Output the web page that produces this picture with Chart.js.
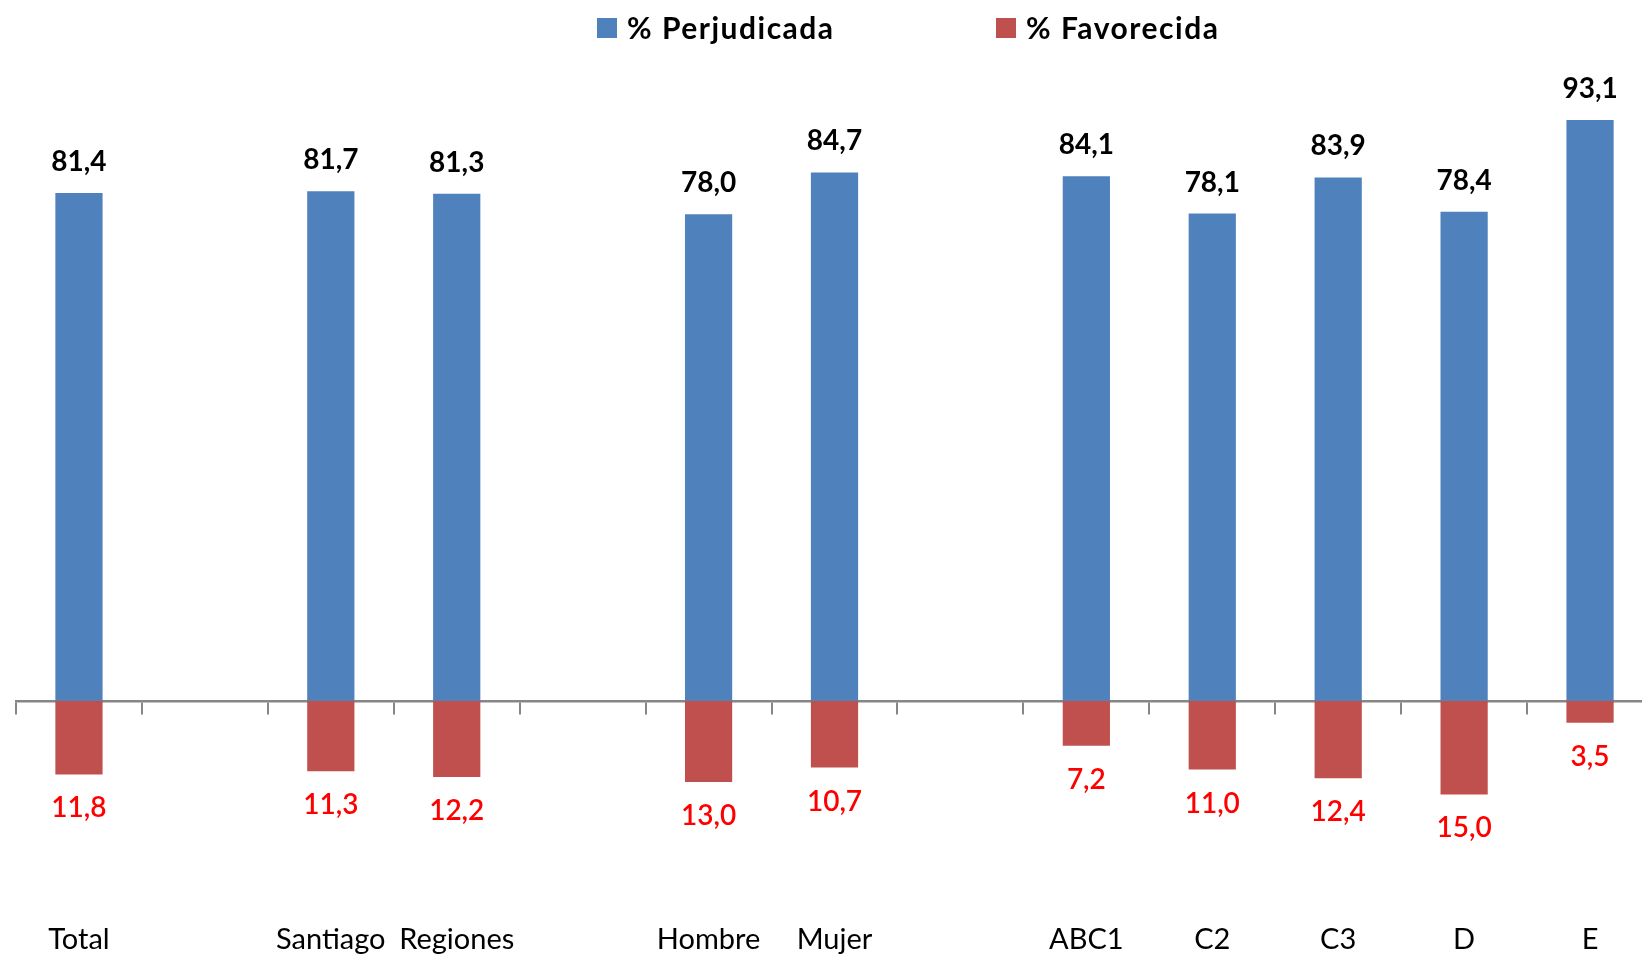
<!DOCTYPE html>
<html>
<head>
<meta charset="utf-8">
<title>% Perjudicada / % Favorecida</title>
<script src="https://cdn.jsdelivr.net/npm/chart.js@4.4.1/dist/chart.umd.min.js"></script>
<style>
    html, body { margin: 0; padding: 0; background: #fff; overflow: hidden; }
    #wrap { position: absolute; left: 0; top: 0; width: 1660px; height: 960px; }
</style>
</head>
<body>
<div id="wrap"><canvas id="chart" width="1660" height="960"></canvas></div>
<script>
// Data (empty categories are the gaps between groups)
const categories = ['Total', '', 'Santiago', 'Regiones', '', 'Hombre', 'Mujer', '', 'ABC1', 'C2', 'C3', 'D', 'E'];
const perjudicada = [81.4, null, 81.7, 81.3, null, 78.0, 84.7, null, 84.1, 78.1, 83.9, 78.4, 93.1];
const favorecida = [11.8, null, 11.3, 12.2, null, 13.0, 10.7, null, 7.2, 11.0, 12.4, 15.0, 3.5];
const seriesNames = ['% Perjudicada', '% Favorecida'];
const seriesColors = ['#4F81BD', '#C0504D'];

const FONT = "Lato, 'Open Sans', sans-serif";

function formatValue(v) {
    return v.toFixed(1).replace('.', ',');
}

// Value labels: black above the blue bars, red below the red bars
const valueLabels = {
    id: 'valueLabels',
    afterDatasetsDraw(chart) {
        const ctx = chart.ctx;
        ctx.save();
        ctx.textAlign = 'center';
        ctx.textBaseline = 'middle';
        chart.data.datasets.forEach((ds, i) => {
            const meta = chart.getDatasetMeta(i);
            meta.data.forEach((bar, j) => {
                const v = ds.data[j];
                if (v === null || v === undefined) return;
                if (v >= 0) {
                    ctx.font = `bold 28px ${FONT}`;
                    ctx.fillStyle = '#000';
                    ctx.fillText(formatValue(v), bar.x, bar.y - 31);
                } else {
                    ctx.font = `600 28px ${FONT}`;
                    ctx.fillStyle = '#FF0000';
                    ctx.fillText(formatValue(-v), bar.x, bar.y + 34);
                }
            });
        });
        ctx.restore();
    }
};

// Legend drawn by hand so the wide gap between the two items can be kept
const topLegend = {
    id: 'topLegend',
    afterDraw(chart) {
        const ctx = chart.ctx;
        const starts = [597, 996];
        ctx.save();
        ctx.font = `bold 30px ${FONT}`;
        ctx.letterSpacing = '1.5px';
        ctx.textBaseline = 'middle';
        chart.data.datasets.forEach((ds, i) => {
            ctx.fillStyle = ds.backgroundColor;
            ctx.fillRect(starts[i], 18, 20, 20);
            ctx.fillStyle = '#000';
            ctx.fillText(ds.label, starts[i] + 30, 29);
        });
        ctx.restore();
    }
};

new Chart(document.getElementById('chart'), {
    type: 'bar',
    data: {
        labels: categories,
        datasets: [
            {
                label: seriesNames[0],
                data: perjudicada,
                backgroundColor: seriesColors[0],
                barPercentage: 0.375,
                categoryPercentage: 1
            },
            {
                label: seriesNames[1],
                data: favorecida.map(v => v === null ? null : -v),
                backgroundColor: seriesColors[1],
                barPercentage: 0.375,
                categoryPercentage: 1
            }
        ]
    },
    options: {
        responsive: false,
        animation: false,
        layout: { padding: { left: 16, right: 7, top: 77, bottom: 0 } },
        plugins: {
            legend: { display: false },
            tooltip: { enabled: false }
        },
        scales: {
            x: {
                stacked: true,
                grid: { display: false, drawTicks: false },
                border: { display: false },
                ticks: {
                    color: '#000',
                    font: { family: FONT, size: 29 },
                    padding: 3,
                    autoSkip: false,
                    maxRotation: 0
                }
            },
            zero: {
                type: 'category',
                axis: 'x',
                position: { y: 0 },
                offset: true,
                grid: {
                    offset: true,
                    drawOnChartArea: false,
                    drawTicks: true,
                    tickLength: 12,
                    color: '#868686',
                    lineWidth: 2
                },
                border: { color: '#868686', width: 2.5 },
                ticks: { display: false }
            },
            y: {
                stacked: true,
                display: false,
                min: -35,
                max: 100
            }
        }
    },
    plugins: [valueLabels, topLegend]
});
</script>
</body>
</html>
